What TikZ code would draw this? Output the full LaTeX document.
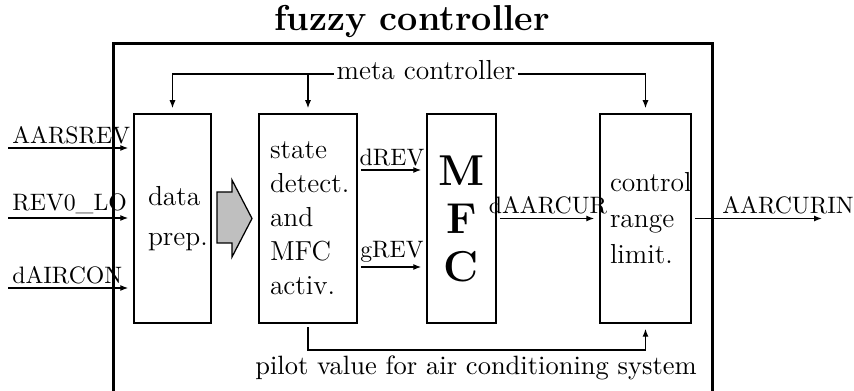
\documentclass[tikz,border=0pt]{standalone}
\usepackage{tikz}
\usetikzlibrary{arrows.meta,calc,positioning}
\tikzset{
  blk/.style={draw,line width=0.6pt,minimum height=83.6pt,inner sep=0pt},
  sig/.style={-{Latex[length=3.2pt,width=2.4pt]},line width=0.5pt,shorten >=2pt},
  frm/.style={line width=1.2pt},
  lbl/.style={font=\fontsize{9.5}{11}\selectfont,inner sep=1.5pt},
  every node/.style={font=\fontsize{11}{14}\selectfont}
}

\begin{document}
\begin{tikzpicture}[x=0.4pt,y=-0.4pt]
\useasboundingbox (0,0) rectangle (854,391);
% outer frame, cut off at the bottom
\draw[frm] (113,391) -- (113,44) -- (712,44) -- (712,391);
\node[font=\Large\bfseries] (title) at (412,22) {fuzzy controller};
% blocks
\node[blk,minimum width=30.8pt,text width=19.6pt,align=left,font=\fontsize{11}{16}\selectfont] (prep) at (172.5,218.5) {data\\prep.};
\node[blk,minimum width=39.2pt,text width=30.4pt,align=left,font=\fontsize{11}{13.6}\selectfont] (state) at (308,218.5) {state\\detect.\\and\\MFC\\activ.};
\node[blk,minimum width=27.6pt,align=center,font=\fontsize{17.28}{19.2}\selectfont\bfseries] (mfc) at (461.5,218.5) {M\\F\\C};
\node[blk,minimum width=36.4pt,text width=28.4pt,align=left,font=\fontsize{11}{14.4}\selectfont] (ctrl) at (645.5,218.5) {control\\range\\limit.};
\draw[fill=gray!50,line width=0.5pt] (217,192) -- (232,192) -- (232,180) -- (252,218.5)
  -- (232,257) -- (232,243) -- (217,243) -- cycle;
% meta controller
\node[anchor=mid,inner sep=1pt] (meta) at (426,74) {meta controller};
\draw[sig] (meta.mid west) -| (prep.north);
\draw[sig] (meta.mid west -| state.north) -- (state.north);
\draw[sig] (meta.mid east) -| (ctrl.north);
% inputs
\coordinate (in1) at (8,148);
\coordinate (in2) at (8,218);
\coordinate (in3) at (8,288);
\draw[sig] (in1) -- node[lbl,above right,pos=0]{AARSREV} (in1 -| prep.west);
\draw[sig] (in2) -- node[lbl,above right,pos=0]{REV0\_LO} (in2 -| prep.west);
\draw[sig] (in3) -- node[lbl,above right,pos=0]{dAIRCON} (in3 -| prep.west);
% signals between blocks
\draw[sig,shorten <=1.2pt] ($(state.east)+(0,-48.5)$) -- node[lbl,above]{dREV} ($(mfc.west)+(0,-48.5)$);
\draw[sig,shorten <=1.2pt] ($(state.east)+(0,48.5)$) -- node[lbl,above]{gREV} ($(mfc.west)+(0,48.5)$);
\draw[sig,shorten <=1.2pt] (mfc.east) -- node[lbl,above]{dAARCUR} (ctrl.west);
\coordinate (out) at (827,218.5);
\draw[sig,shorten <=1.2pt] (ctrl.east) -- node[lbl,above right,pos=0,xshift=10.5pt]{AARCURIN} (out);
% pilot value
\coordinate (pv) at (476,350);
\draw[sig,shorten <=1.5pt] (state.south) |- (pv) -| (ctrl.south);
\node[font=\fontsize{10.6}{13}\selectfont] (pilot) at (476,368) {pilot value for air conditioning system};
\end{tikzpicture}
\end{document}
